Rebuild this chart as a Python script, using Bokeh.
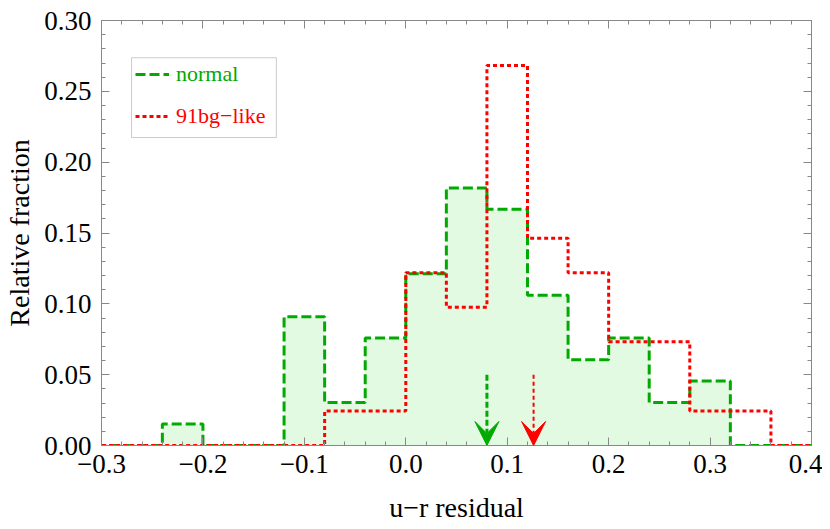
import numpy as np
from bokeh.plotting import figure
from bokeh.models import (Legend, LegendItem, LinearAxis, FixedTicker, Range1d,
                          Arrow, VeeHead, BoxAnnotation, CustomLabelingPolicy)
from bokeh.embed import file_html
from bokeh.resources import INLINE

# ---- data ----
bin_edges = [-0.32, -0.28, -0.24, -0.20, -0.16, -0.12, -0.08, -0.04, 0.00, 0.04,
             0.08, 0.12, 0.16, 0.20, 0.24, 0.28, 0.32, 0.36, 0.40]
normal_frac = [0, 0, 0.0152, 0, 0, 0.0909, 0.0303, 0.0758, 0.1212, 0.1818,
               0.1667, 0.1061, 0.0606, 0.0758, 0.0303, 0.0455, 0, 0]
bg91_frac = [0, 0, 0, 0, 0, 0, 0.0244, 0.0244, 0.1220, 0.0976,
             0.2683, 0.1463, 0.1220, 0.0732, 0.0732, 0.0244, 0.0244, 0]
normal_mean = 0.080
bg91_mean = 0.126
arrow_top = 0.05

x_ticks = [-0.3, -0.2, -0.1, 0.0, 0.1, 0.2, 0.3, 0.4]
x_tick_labels = ["\u22120.3", "\u22120.2", "\u22120.1", "0.0", "0.1", "0.2", "0.3", "0.4"]
y_ticks = [0.0, 0.05, 0.1, 0.15, 0.2, 0.25, 0.3]
y_tick_labels = ["0.00", "0.05", "0.10", "0.15", "0.20", "0.25", "0.30"]

GREEN = "#00aa00"
RED = "#ff0000"
FILL = "#e1fae1"
AXIS_GRAY = "#888888"
FONT = "Liberation Serif"

p = figure(width=822, height=525, x_range=Range1d(-0.3, 0.4), y_range=Range1d(0, 0.3),
           output_backend="svg", toolbar_location=None,
           min_border_left=101, min_border_right=11, min_border_top=20, min_border_bottom=80)
p.grid.visible = False
p.outline_line_color = None

xs = bin_edges
yn = normal_frac + [0]
yb = bg91_frac + [0]

p.varea_step(x=xs, y1=[0] * len(xs), y2=yn, step_mode="after", fill_color=FILL)
g_line = p.step(x=xs, y=yn, mode="after", line_color=GREEN, line_width=3, line_dash="10 4")
r_line = p.step(x=xs, y=yb, mode="after", line_color=RED, line_width=3, line_dash="4 3")

# arrows for the means
p.add_layout(Arrow(x_start=normal_mean, y_start=arrow_top, x_end=normal_mean, y_end=0,
                   line_color=GREEN, line_width=3, line_dash="6 3",
                   end=VeeHead(size=24, fill_color=GREEN, line_color=GREEN, line_width=1)))
p.add_layout(Arrow(x_start=bg91_mean, y_start=arrow_top, x_end=bg91_mean, y_end=0,
                   line_color=RED, line_width=2, line_dash="4 3",
                   end=VeeHead(size=24, fill_color=RED, line_color=RED, line_width=1)))

# axes
x_minor = [round(v, 2) for v in np.arange(-0.3, 0.4001, 0.02)]
y_minor = [round(v, 2) for v in np.arange(0.0, 0.3001, 0.01)]

no_labels = CustomLabelingPolicy(code="""
if (typeof indices.clear === "function") { indices.clear(); }
else { for (const i of Array.from(indices)) { indices.unset(i); } }
return indices;
""")


def style_axis(ax, ticks, minor, labels, show_labels):
    ax.ticker = FixedTicker(ticks=ticks, minor_ticks=minor)
    ax.axis_line_color = AXIS_GRAY
    ax.major_tick_line_color = AXIS_GRAY
    ax.minor_tick_line_color = AXIS_GRAY
    ax.major_tick_in = 8
    ax.major_tick_out = 0
    ax.minor_tick_in = 4
    ax.minor_tick_out = 0
    ax.major_label_text_font = FONT
    ax.major_label_text_color = "black"
    if show_labels:
        ax.major_label_text_font_size = "27px"
        ax.major_label_overrides = dict(zip(ticks, labels))
        ax.axis_label_text_font = FONT
        ax.axis_label_text_font_size = "28px"
        ax.axis_label_text_font_style = "normal"
        ax.axis_label_text_color = "black"
    else:
        ax.major_label_text_font_size = "0px"
        ax.major_label_policy = no_labels
        ax.major_label_standoff = 0


xb = p.xaxis[0]
yl = p.yaxis[0]
style_axis(xb, x_ticks, x_minor, x_tick_labels, True)
style_axis(yl, y_ticks, y_minor, y_tick_labels, True)
xb.axis_label = "u\u2212r residual"
yl.axis_label = "Relative fraction"
xb.major_label_standoff = 9
xb.axis_label_standoff = 16
yl.major_label_standoff = 10
yl.axis_label_standoff = 6

xa = LinearAxis()
style_axis(xa, x_ticks, x_minor, x_tick_labels, False)
p.add_layout(xa, "above")
yr = LinearAxis()
style_axis(yr, y_ticks, y_minor, y_tick_labels, False)
p.add_layout(yr, "right")

# legend (two one-item legends so each label keeps its own colour, plus a frame)
common = dict(label_text_font=FONT, label_text_font_size="22px", glyph_width=34,
              glyph_height=22, label_height=22, padding=0, margin=0, spacing=0,
              label_standoff=7, border_line_color=None, background_fill_alpha=0)
leg1 = Legend(items=[LegendItem(label="normal", renderers=[g_line])],
              location=(34, 358), label_text_color=GREEN, **common)
leg2 = Legend(items=[LegendItem(label="91bg\u2212like", renderers=[r_line])],
              location=(34, 316), label_text_color=RED, **common)
p.add_layout(leg1)
p.add_layout(leg2)
p.add_layout(BoxAnnotation(left=-0.2704, right=-0.1276, top=0.2737, bottom=0.2174,
                           fill_color=None, line_color="#555555", line_width=1))

open("out.html", "w").write(file_html(p, INLINE))
